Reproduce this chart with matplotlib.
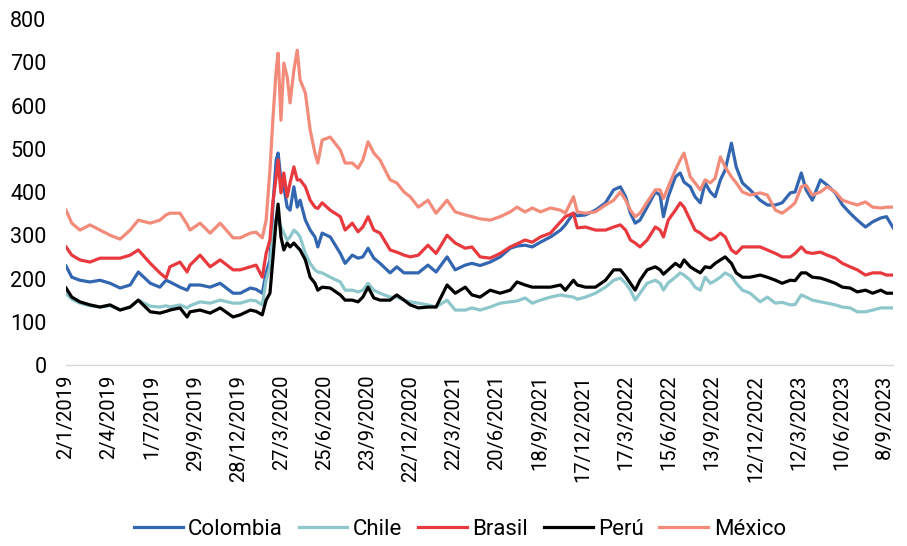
import pandas as pd
import matplotlib
matplotlib.use('Agg')
import matplotlib.pyplot as plt

plt.rcParams['font.family'] = ['Roboto', 'DejaVu Sans']

# Fechas de lectura (aprox. cada 2-3 semanas, más densas en marzo-abril 2020)
fechas = [
    '2019-01-02', '2019-01-14', '2019-01-31', '2019-02-21', '2019-03-14', '2019-04-04',
    '2019-04-25', '2019-05-16', '2019-06-02', '2019-06-27', '2019-07-17', '2019-07-30',
    '2019-08-07', '2019-08-28', '2019-09-12', '2019-09-18', '2019-10-09', '2019-10-30',
    '2019-11-20', '2019-12-17', '2020-01-01', '2020-01-22', '2020-02-03', '2020-02-16',
    '2020-02-24', '2020-03-03', '2020-03-09', '2020-03-16', '2020-03-20', '2020-03-26',
    '2020-04-01', '2020-04-08', '2020-04-14', '2020-04-22', '2020-04-29', '2020-05-05',
    '2020-05-16', '2020-05-26', '2020-06-05', '2020-06-11', '2020-06-20', '2020-07-07',
    '2020-07-28', '2020-08-07', '2020-08-22', '2020-09-03', '2020-09-13', '2020-09-24',
    '2020-10-06', '2020-10-19', '2020-11-09', '2020-11-23', '2020-12-08', '2020-12-21',
    '2021-01-07', '2021-01-27', '2021-02-13', '2021-03-08', '2021-03-25', '2021-04-15',
    '2021-04-29', '2021-05-16', '2021-06-06', '2021-06-27', '2021-07-18', '2021-08-01',
    '2021-08-18', '2021-09-02', '2021-09-19', '2021-10-10', '2021-10-31', '2021-11-10',
    '2021-11-27', '2021-12-05', '2021-12-22', '2022-01-12', '2022-02-02', '2022-02-19',
    '2022-03-05', '2022-03-16', '2022-03-26', '2022-04-05', '2022-04-15', '2022-04-30',
    '2022-05-17', '2022-05-27', '2022-06-03', '2022-06-13', '2022-06-28', '2022-07-08',
    '2022-07-16', '2022-07-29', '2022-08-08', '2022-08-19', '2022-08-29', '2022-09-09',
    '2022-09-19', '2022-09-30', '2022-10-10', '2022-10-23', '2022-11-02', '2022-11-15',
    '2022-12-01', '2022-12-22', '2023-01-06', '2023-01-23', '2023-02-06', '2023-02-23',
    '2023-03-05', '2023-03-18', '2023-03-28', '2023-04-10', '2023-04-27', '2023-05-11',
    '2023-05-28', '2023-06-12', '2023-06-28', '2023-07-13', '2023-07-30', '2023-08-14',
    '2023-08-31', '2023-09-12', '2023-09-26',
]

colombia = [
    229, 203, 196, 192, 196, 189, 178, 185, 215, 189, 180, 196,
    192, 180, 173, 185, 185, 180, 189, 166, 166, 178, 175, 166,
    213, 243, 365, 474, 490, 428, 412, 365, 358, 412, 365, 381,
    335, 312, 296, 273, 305, 296, 258, 235, 254, 247, 250, 270,
    247, 235, 213, 227, 213, 213, 213, 231, 215, 250, 220, 231,
    235, 230, 238, 250, 270, 275, 277, 273, 284, 296, 312, 324,
    351, 345, 347, 358, 375, 405, 412, 389, 351, 328, 335, 365,
    400, 393, 343, 389, 435, 444, 423, 412, 389, 375, 421, 400,
    389, 428, 451, 513, 458, 421, 405, 381, 370, 370, 375, 398,
    400, 444, 405, 381, 428, 416, 398, 370, 351, 335, 319, 331,
    340, 343, 317,
]

chile = [
    165, 152, 143, 137, 134, 137, 128, 134, 150, 136, 134, 137,
    134, 139, 132, 137, 146, 143, 150, 143, 143, 150, 148, 139,
    196, 227, 305, 335, 330, 319, 305, 289, 296, 312, 305, 296,
    258, 235, 220, 215, 213, 203, 192, 173, 173, 169, 173, 189,
    173, 166, 157, 157, 150, 146, 143, 139, 134, 150, 127, 127,
    132, 127, 134, 143, 146, 148, 155, 143, 150, 157, 162, 160,
    157, 152, 157, 166, 180, 196, 201, 189, 173, 150, 166, 189,
    196, 189, 173, 190, 203, 213, 208, 196, 180, 173, 203, 189,
    195, 203, 213, 205, 189, 173, 166, 146, 157, 143, 145, 139,
    140, 162, 157, 150, 146, 143, 139, 134, 132, 123, 123, 127,
    132, 132, 132,
]

brasil = [
    273, 254, 243, 238, 247, 247, 247, 254, 266, 235, 213, 201,
    227, 238, 215, 231, 254, 227, 243, 220, 220, 227, 231, 203,
    258, 289, 375, 435, 474, 398, 444, 389, 421, 458, 428, 428,
    412, 381, 365, 362, 375, 358, 343, 312, 328, 308, 319, 343,
    312, 305, 266, 261, 254, 250, 254, 277, 258, 300, 282, 270,
    273, 250, 247, 258, 273, 280, 289, 284, 296, 305, 331, 343,
    351, 317, 319, 312, 312, 319, 324, 312, 289, 282, 273, 289,
    319, 312, 296, 335, 358, 375, 365, 335, 312, 305, 296, 289,
    294, 305, 296, 266, 258, 273, 273, 273, 266, 258, 250, 250,
    258, 273, 261, 258, 261, 254, 247, 235, 227, 220, 208, 213,
    213, 208, 208,
]

peru = [
    178, 157, 146, 139, 134, 139, 127, 134, 150, 123, 120, 124,
    127, 132, 111, 123, 127, 120, 132, 111, 116, 127, 124, 116,
    150, 166, 243, 335, 372, 296, 266, 282, 273, 282, 273, 266,
    243, 203, 189, 173, 180, 178, 162, 150, 150, 146, 157, 180,
    155, 150, 150, 162, 150, 139, 132, 134, 134, 185, 166, 180,
    162, 157, 173, 166, 173, 192, 185, 180, 180, 180, 185, 173,
    196, 185, 180, 180, 196, 220, 220, 205, 189, 173, 196, 220,
    227, 220, 210, 220, 235, 227, 243, 227, 220, 213, 227, 225,
    235, 243, 250, 235, 213, 203, 203, 208, 203, 196, 189, 196,
    195, 213, 213, 203, 201, 196, 189, 180, 178, 169, 173, 166,
    173, 166, 166,
]

mexico = [
    358, 328, 312, 324, 312, 300, 291, 312, 335, 328, 335, 347,
    351, 351, 325, 312, 328, 305, 328, 294, 294, 305, 307, 294,
    335, 451, 566, 682, 721, 566, 698, 666, 606, 682, 728, 659,
    629, 543, 490, 467, 520, 527, 497, 467, 467, 455, 474, 516,
    490, 474, 428, 421, 400, 389, 365, 381, 351, 381, 354, 347,
    343, 338, 335, 343, 354, 365, 354, 363, 354, 363, 358, 351,
    389, 354, 351, 354, 370, 381, 400, 381, 358, 343, 351, 377,
    405, 405, 385, 412, 451, 474, 490, 435, 421, 405, 428, 421,
    432, 481, 458, 435, 421, 400, 393, 398, 393, 358, 351, 365,
    375, 412, 416, 393, 400, 412, 400, 381, 375, 370, 377, 365,
    363, 365, 365,
]

series = [
    ('Colombia', colombia, '#3366b1'),
    ('Chile', chile, '#8dc7cc'),
    ('Brasil', brasil, '#e8393e'),
    ('Perú', peru, '#000000'),
    ('México', mexico, '#f28b7a'),
]

fechas = pd.to_datetime(fechas)

fig = plt.figure(figsize=(9.07, 5.46), dpi=100)
ax = fig.add_axes([0.0728, 0.3315, 0.912, 0.6337])

for nombre, valores, color in series:
    ax.plot(fechas, valores, color=color, lw=2.3, label=nombre, solid_joinstyle='round')

ax.set_ylim(0, 800)
ax.set_yticks(range(0, 801, 100))
ax.set_xlim(pd.Timestamp('2019-01-02'), pd.Timestamp('2023-09-26'))

ticks = pd.date_range('2019-01-02', '2023-09-08', freq='90D')
ax.set_xticks(ticks)
ax.set_xticklabels([f'{t.day}/{t.month}/{t.year}' for t in ticks], rotation=90)

for s in ['left', 'right', 'top']:
    ax.spines[s].set_visible(False)
ax.spines['bottom'].set_color('#d9d9d9')
ax.spines['bottom'].set_linewidth(1.0)
ax.tick_params(axis='y', length=0, pad=14, labelsize=15.5, labelcolor='#000000')
ax.tick_params(axis='x', length=0, pad=7, labelsize=14.5, labelcolor='#000000')

fig.legend(loc='center', bbox_to_anchor=(0.507, 0.03), ncol=5, frameon=False,
           fontsize=16, handlelength=2.2, handletextpad=0.25, columnspacing=0.7)

fig.savefig('out.png', dpi=100)
